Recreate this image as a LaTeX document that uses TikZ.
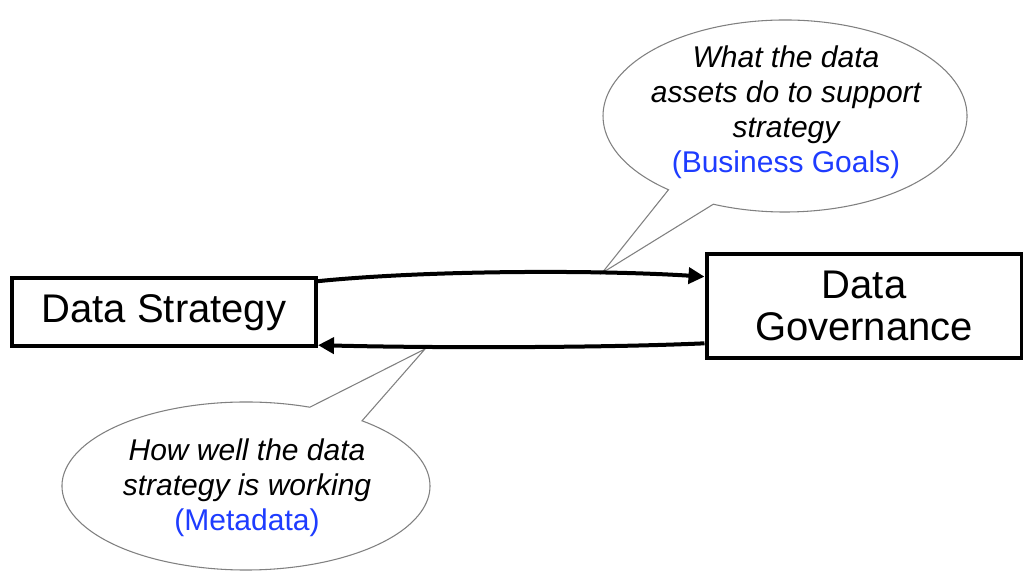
\documentclass[tikz,border=0pt]{standalone}
\usepackage{fontspec}
\setmainfont{Liberation Sans}
\usetikzlibrary{arrows.meta}
\definecolor{linkblue}{RGB}{30,60,255}
\definecolor{bubbleline}{RGB}{128,128,128}
\begin{document}
\begin{tikzpicture}[x=0.75pt,y=0.75pt,
  box/.style={draw=black, line width=3pt, inner sep=0pt, align=center,
    font=\fontsize{30}{31}\selectfont},
  flow/.style={line width=3pt, -{Triangle[length=12pt,width=12pt]}},
  bubble/.style={draw=bubbleline, line width=0.8pt, fill=white},
  bubbletext/.style={align=center, font=\fontsize{22.5}{26.3}\selectfont\itshape}]
\useasboundingbox (0,0) rectangle (1023,573);

% callout shapes
\path[bubble] ([shift={(785,457)}]246.8:182 and 96)
  arc[start angle=246.8, end angle=590.2, x radius=182, y radius=96]
  -- (602,300) -- cycle;
\path[bubble] ([shift={(246,87)}]69.7:184 and 84)
  arc[start angle=69.7, end angle=410.9, x radius=184, y radius=84]
  -- (425,224) -- cycle;

\node[bubbletext] (topnote) at (786,461)
  {What the data\\assets do to support\\strategy\\\upshape\color{linkblue}(Business Goals)};
\node[bubbletext] (botnote) at (247,85)
  {How well the data\\strategy is working\\\upshape\color{linkblue}(Metadata)};

% boxes
\node[box, minimum width=228pt, minimum height=51pt] (ds) at (164,260.5) {Data Strategy};
\node[box, minimum width=236.25pt, minimum height=78pt] (dg) at (864,267) {Data\\Governance};

% arrows
\draw[flow] ([yshift=23.5]ds.east) .. controls (430,303) and (600,303) .. ([yshift=22]dg.west);
\draw[flow] ([yshift=-28]dg.west) .. controls (600,225) and (430,225) .. ([yshift=-24.5]ds.east);
\end{tikzpicture}
\end{document}
